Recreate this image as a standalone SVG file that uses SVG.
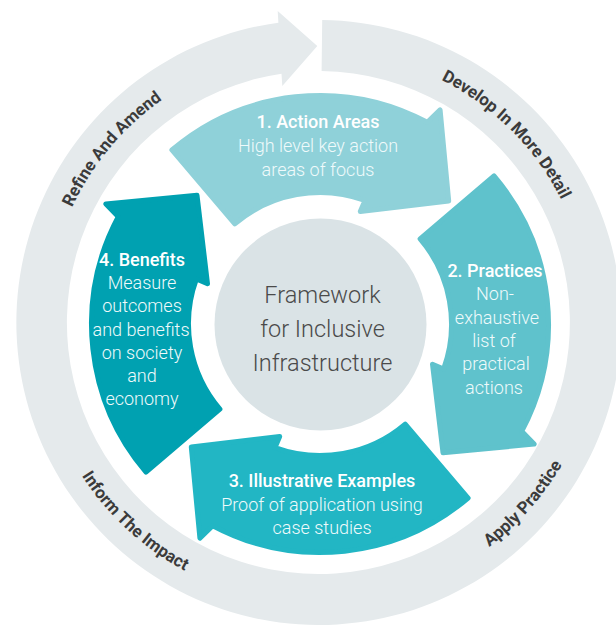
<svg xmlns="http://www.w3.org/2000/svg" xmlns:xlink="http://www.w3.org/1999/xlink" width="616" height="625" viewBox="0 0 616 625">
<style>
.ring{fill:#e5eaec}
.lbl{font-family:Roboto,"Liberation Sans",sans-serif;font-weight:700;font-size:17px;fill:#3b3b3b}
.t{font-family:Roboto,"Liberation Sans",sans-serif;font-size:18px;text-anchor:middle}
.h{font-weight:500;fill:#ffffff}
.b{font-weight:300;fill:#effafb}
.c{font-family:Roboto,"Liberation Sans",sans-serif;font-weight:300;font-size:23.5px;fill:#4a4a4a;text-anchor:middle}
.arr{stroke-width:5;stroke-linejoin:round}
</style>
<defs>
<path id="arrowShape" d="M171.9,150.0 A228.5,228.5 0 0 1 427.3,122.3 L440.1,109.9 L448.7,201.0 L360.3,211.5 L365.0,200.4 A131.5,131.5 0 0 0 234.8,223.9 Z"/>
<path id="pRefine" d="M46.5,322.5 A272,272 0 0 1 271.3,54.6"/>
<path id="pDevelop" d="M342.2,51.5 A272,272 0 0 1 589.5,298.8"/>
<path id="pApply" d="M360.2,601.4 A282,282 0 0 0 600.4,329.9"/>
<path id="pInform" d="M38.8,358.3 A282,282 0 0 0 305.2,604.2"/>
</defs>
<g id="cycle-ring">
<path class="ring" d="M322.2,20 A302.5,302.5 0 1 1 278.4,22.7 L277.7,11 L317.3,46 L282.3,86 L281.5,73.7 A251.5,251.5 0 1 0 321.6,71 Z"/>
<text class="lbl"><textPath href="#pRefine" xlink:href="#pRefine" startOffset="50%" text-anchor="middle">Refine And Amend</textPath></text>
<text class="lbl"><textPath href="#pDevelop" xlink:href="#pDevelop" startOffset="50%" text-anchor="middle">Develop In More Detail</textPath></text>
<text class="lbl"><textPath href="#pApply" xlink:href="#pApply" startOffset="50%" text-anchor="middle">Apply Practice</textPath></text>
<text class="lbl"><textPath href="#pInform" xlink:href="#pInform" startOffset="50%" text-anchor="middle">Inform The Impact</textPath></text>
</g>
<g id="connectors"></g>
<g id="node-action-areas">
<use href="#arrowShape" xlink:href="#arrowShape" class="arr" fill="#8fd1d9" stroke="#8fd1d9"/>
<text class="t h" x="318" y="128">1. Action Areas</text>
<text class="t b" x="318" y="152">High level key action</text>
<text class="t b" x="318" y="175.5">areas of focus</text>
</g>
<g id="node-practices">
<use href="#arrowShape" xlink:href="#arrowShape" class="arr" fill="#5fc2cc" stroke="#5fc2cc" transform="rotate(90 320 324)"/>
<text class="t h" x="495" y="277">2. Practices</text>
<text class="t b" x="495" y="300.3">Non-</text>
<text class="t b" x="497" y="323.6">exhaustive</text>
<text class="t b" x="494" y="346.9">list of</text>
<text class="t b" x="496" y="370.2">practical</text>
<text class="t b" x="494" y="393.5">actions</text>
</g>
<g id="node-illustrative-examples">
<use href="#arrowShape" xlink:href="#arrowShape" class="arr" fill="#22b6c4" stroke="#22b6c4" transform="rotate(180 320 324)"/>
<text class="t h" x="322" y="487">3. Illustrative Examples</text>
<text class="t b" x="322" y="510.5">Proof of application using</text>
<text class="t b" x="322" y="533.5">case studies</text>
</g>
<g id="node-benefits">
<use href="#arrowShape" xlink:href="#arrowShape" class="arr" fill="#00a1b1" stroke="#00a1b1" transform="rotate(270 320 324)"/>
<text class="t h" x="142" y="266">4. Benefits</text>
<text class="t b" x="142" y="289.2">Measure</text>
<text class="t b" x="142" y="312.4">outcomes</text>
<text class="t b" x="141" y="335.6">and benefits</text>
<text class="t b" x="142" y="358.8">on society</text>
<text class="t b" x="142" y="382">and</text>
<text class="t b" x="142" y="405.2">economy</text>
</g>
<g id="node-framework">
<circle cx="320.5" cy="324.5" r="106" fill="#dae3e6"/>
<text class="c" x="322.5" y="303">Framework</text>
<text class="c" x="322.5" y="337">for Inclusive</text>
<text class="c" x="322.5" y="371">Infrastructure</text>
</g>
</svg>
